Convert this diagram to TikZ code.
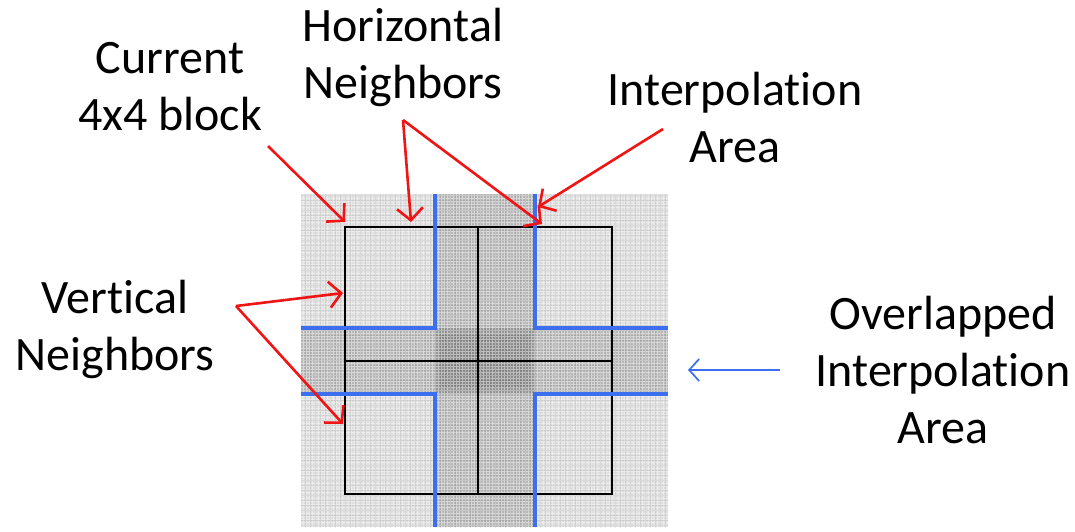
\documentclass[tikz,border=0pt]{standalone}
\usepackage{fontspec}
\setmainfont{Carlito}[Ligatures={NoCommon,NoContextual}]
\usetikzlibrary{arrows.meta}
\definecolor{bl}{RGB}{60,110,240}
\definecolor{rd}{RGB}{240,20,20}
\begin{document}
\begin{tikzpicture}[x=1pt,y=-1pt,
  lbl/.style={font=\fontsize{48}{57}\selectfont, align=center, inner sep=0pt, anchor=base},
  redarrow/.style={draw=rd, line width=2.6pt, -{Straight Barb[length=12pt,width=26pt,line width=2.6pt]}},
  bluearrow/.style={draw=bl, line width=1.7pt, -{Straight Barb[length=10pt,width=22pt,line width=1.7pt]}},
  blueline/.style={draw=bl, line width=3.4pt},
  blk/.style={draw=black, line width=1.8pt},
  band/.style={fill=black, fill opacity=0.17, draw=none}]
\useasboundingbox (0,0) rectangle (1075,531);
% textured grey field
\fill[gray!26] (301,194) rectangle (668,527);
\path[band] (435,194) rectangle (535,527);
\path[band] (301,328) rectangle (668,394);
\path[band, fill opacity=0.08] (440,335) rectangle (530,388);
\begin{scope}
\clip (301,194) rectangle (668,527);
\draw[white, line width=0.8pt, opacity=0.45, step=3pt] (300,193) grid (670,530);
\draw[black, line width=0.4pt, opacity=0.08, step=5pt] (300,193) grid (670,530);
\end{scope}
% black blocks
\draw[blk] (345,227) rectangle (612,494);
\draw[blk, line width=2.4pt] (478,227) -- (478,494);
\draw[blk, line width=2.4pt] (345,361) -- (612,361);
% blue interpolation area boundaries
\draw[blueline] (301,328) -- (435,328) -- (435,194);
\draw[blueline] (535,194) -- (535,328) -- (668,328);
\draw[blueline] (301,394) -- (435,394) -- (435,527);
\draw[blueline] (668,394) -- (535,394) -- (535,527);
% labels
\node[lbl] (cur) at (170,130) {Current\\4x4 block};
\node[lbl] (hor) at (403,98) {Horizontal\\Neighbors};
\node[lbl] (ipa) at (735,162) {Interpolation\\Area};
\node[lbl] (ver) at (115,370) {Vertical\\Neighbors};
\node[lbl] (ovl) at (943,443) {Overlapped\\Interpolation\\Area};
% arrow coordinates
\coordinate (curS) at (268,146);
\coordinate (curT) at (345,222);
\coordinate (horS) at (403,120);
\coordinate (horT1) at (411,222);
\coordinate (horT2) at (542,224);
\coordinate (ipaS) at (663,129);
\coordinate (ipaT) at (538,207);
\coordinate (verS) at (236,306);
\coordinate (verT1) at (343,293);
\coordinate (verT2) at (343,424);
\coordinate (ovlS) at (780,370);
\coordinate (ovlT) at (688,370);
\draw[redarrow] (curS) -- (curT);
\draw[redarrow] (horS) -- (horT1);
\draw[redarrow] (horS) -- (horT2);
\draw[redarrow] (ipaS) -- (ipaT);
\draw[redarrow] (verS) -- (verT1);
\draw[redarrow] (verS) -- (verT2);
\draw[bluearrow] (ovlS) -- (ovlT);
\end{tikzpicture}
\end{document}
